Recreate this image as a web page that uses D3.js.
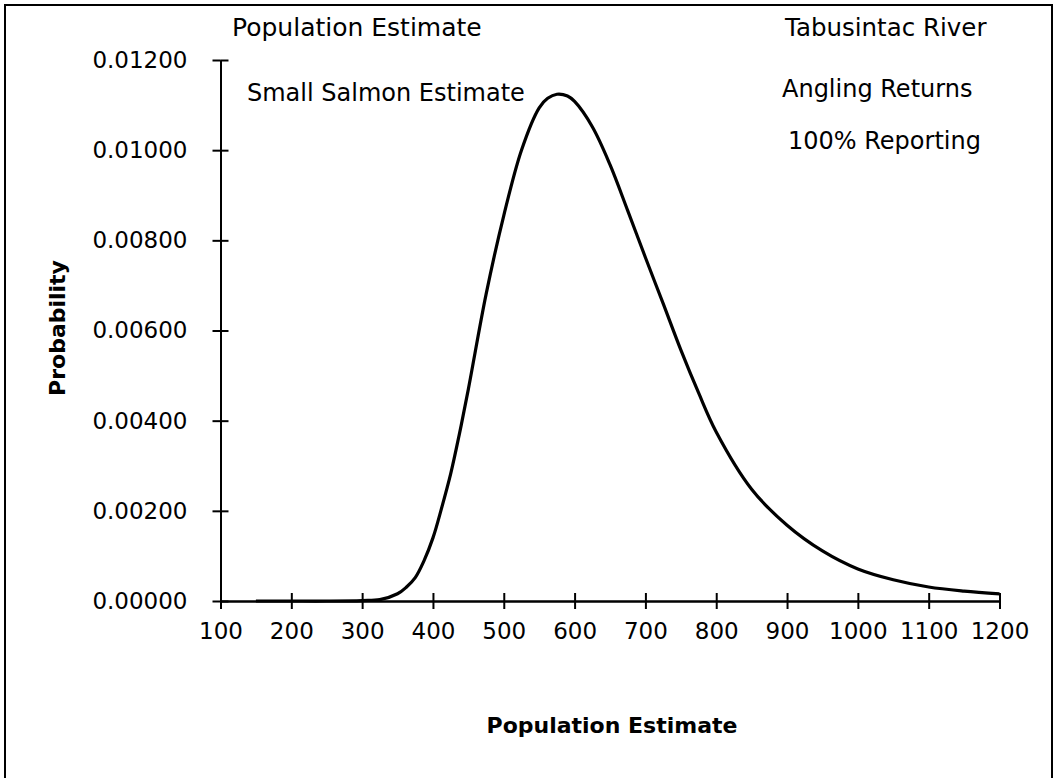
<!DOCTYPE html>
<html>
<head>
<meta charset="utf-8">
<script src="https://cdn.jsdelivr.net/npm/d3@7"></script>
<style>
body{margin:0;background:#fff;}
text{font-family:"DejaVu Sans",sans-serif;fill:#000;}
.axis path,.axis line{stroke:#000;stroke-width:2;}
.axis text{font-size:23px;}
</style>
</head>
<body>
<script>
// population estimate (x) and probability (y)
var popValues=[150,200,250,300,325,350,362,375,387,400,412,425,437,450,475,500,525,550,562,575,590,600,625,650,675,700,725,750,775,800,850,900,950,1000,1050,1100,1150,1200];
var probValues=[0,0,0,0.00001,0.00003,0.00016,0.0003,0.00052,0.00088,0.0014,0.00205,0.00282,0.00368,0.0047,0.0068,0.00855,0.01,0.01094,0.01115,0.01124,0.0112,0.01108,0.01052,0.00968,0.00866,0.00762,0.0066,0.00557,0.00462,0.00375,0.00248,0.00168,0.00111,0.00071,0.00047,0.00031,0.00022,0.00016];
var xTicks=[100,200,300,400,500,600,700,800,900,1000,1100,1200];
var yTicks=[0,0.002,0.004,0.006,0.008,0.01,0.012];

var width=1059,height=778;
var svg=d3.select("body").append("svg").attr("width",width).attr("height",height);

svg.append("rect").attr("x",5).attr("y",5).attr("width",1047).attr("height",820).
	attr("fill","none").attr("stroke","#000").attr("stroke-width",2);

var x=d3.scaleLinear().domain([100,1200]).range([220.5,999.5]);
var y=d3.scaleLinear().domain([0,0.012]).range([601,60]);

// ticks cross the axis lines, so draw each axis twice
svg.append("g").attr("class","axis").attr("transform","translate("+x(100)+",0)").
	call(d3.axisLeft(y).tickValues(yTicks).tickSizeInner(8).tickSizeOuter(0).tickPadding(25).tickFormat(d3.format(".5f")));
svg.append("g").attr("class","axis").attr("transform","translate("+x(100)+",0)").
	call(d3.axisRight(y).tickValues(yTicks).tickSizeInner(8).tickSizeOuter(0).tickFormat(""));
svg.append("g").attr("class","axis").attr("transform","translate(0,"+y(0)+")").
	call(d3.axisBottom(x).tickValues(xTicks).tickSizeInner(8).tickSizeOuter(0).tickPadding(14).tickFormat(d3.format("d")));
svg.append("g").attr("class","axis").attr("transform","translate(0,"+y(0)+")").
	call(d3.axisTop(x).tickValues(xTicks).tickSizeInner(8).tickSizeOuter(0).tickFormat(""));

var line=d3.line().x(function(d,i) {return x(popValues[i]);}).y(function(d) {return y(d);}).curve(d3.curveCatmullRom.alpha(0.5));
svg.append("path").datum(probValues).attr("d",line).
	attr("fill","none").attr("stroke","#000").attr("stroke-width",3.2);

function label(tx,ty,s,size,bold) {
	return svg.append("text").attr("x",tx).attr("y",ty).style("font-size",size+"px").
		style("font-weight",bold?"bold":"normal").text(s);
}
label(232,36,"Population Estimate",25);
label(247,101,"Small Salmon Estimate",24);
label(785,36,"Tabusintac River",24.5);
label(782,97,"Angling Returns",24);
label(788,149,"100% Reporting",24);

label(612,733,"Population Estimate",22,true).attr("text-anchor","middle");
label(0,0,"Probability",22,true).attr("text-anchor","middle").
	attr("transform","translate(65,328) rotate(-90)");
</script>
</body>
</html>
